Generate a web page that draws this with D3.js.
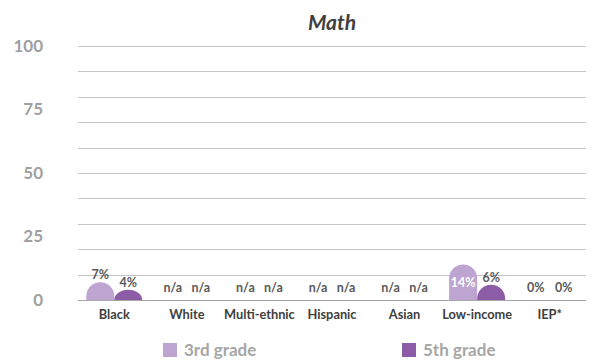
<!DOCTYPE html>
<html>
<head>
<meta charset="utf-8">
<script src="https://cdn.jsdelivr.net/npm/d3@7"></script>
<style>
  body { margin: 0; background: #fff; }
  svg { font-family: Lato, "Open Sans", sans-serif; }
</style>
</head>
<body>
<svg id="chart" width="593" height="361"></svg>
<script>
// chart data
const categories = ["Black", "White", "Multi-ethnic", "Hispanic", "Asian", "Low-income", "IEP*"];
const grade3 = [7, null, null, null, null, 14, 0];
const grade5 = [4, null, null, null, null, 6, 0];
const seriesNames = ["3rd grade", "5th grade"];
const yTicks = [0, 25, 50, 75, 100];
const gridTicks = [0, 10, 20, 30, 40, 50, 60, 70, 80, 90, 100];

const colors = ["#bda4d1", "#8d5ca6"];
const svg = d3.select("#chart");
const margin = { left: 78, right: 7, top: 46, bottom: 61 };
const width = 593, height = 361;

const x0 = d3.scaleBand()
    .domain(categories)
    .range([margin.left, width - margin.right])
    .paddingInner(0.228)
    .paddingOuter(0.114);

const x1 = d3.scaleBand()
    .domain(seriesNames)
    .range([0, x0.bandwidth()]);

const y = d3.scaleLinear()
    .domain([0, 100])
    .range([height - margin.bottom, margin.top]);

// gridlines
svg.append("g")
    .selectAll("line")
    .data(gridTicks)
    .join("line")
    .attr("x1", margin.left)
    .attr("x2", width - margin.right)
    .attr("y1", d => Math.round(y(d)) + 0.5)
    .attr("y2", d => Math.round(y(d)) + 0.5)
    .attr("stroke", d => d === 0 ? "#a6a6a6" : "#c4c4c4")
    .attr("stroke-width", 1);

// y labels
svg.append("g")
    .selectAll("text")
    .data(yTicks)
    .join("text")
    .attr("x", 43)
    .attr("y", d => y(d))
    .attr("dy", "0.35em")
    .attr("text-anchor", "end")
    .style("font-size", "17px")
    .style("font-weight", "bold")
    .attr("fill", "#a0a0a0")
    .text(d => d);

// title
svg.append("text")
    .attr("x", (margin.left + width - margin.right) / 2)
    .attr("y", 30)
    .attr("text-anchor", "middle")
    .style("font-size", "21px")
    .style("font-weight", "bold")
    .style("font-style", "italic")
    .attr("fill", "#404040")
    .text("Math");

const rows = categories.map((c, i) => ({ cat: c, vals: [grade3[i], grade5[i]] }));

// dome shaped bars
function domePath(xl, w, v) {
    const base = y(0);
    const h = base - y(v);
    const rx = w / 2;
    const ry = Math.min(h, rx);
    const shoulder = base - (h - ry);
    return `M${xl},${base} L${xl},${shoulder} A${rx},${ry} 0 0 1 ${xl + w},${shoulder} L${xl + w},${base} Z`;
}

const groups = svg.append("g")
    .selectAll("g")
    .data(rows)
    .join("g")
    .attr("transform", d => `translate(${x0(d.cat)},0)`);

groups.selectAll("path")
    .data(d => d.vals.map((v, j) => ({ v, s: seriesNames[j], j })))
    .join("path")
    .filter(d => d.v)
    .attr("d", d => domePath(x1(d.s), x1.bandwidth(), d.v))
    .attr("fill", d => colors[d.j]);

// value labels
groups.selectAll("text")
    .data(d => d.vals.map((v, j) => ({ v, s: seriesNames[j], j })))
    .join("text")
    .attr("x", d => x1(d.s) + x1.bandwidth() / 2)
    .attr("y", d => {
        if (!d.v) return y(0) - 12;
        if (d.v >= 10) return (y(0) + y(d.v)) / 2;
        return y(d.v) - 7.5;
    })
    .attr("dy", "0.35em")
    .attr("text-anchor", "middle")
    .style("font-size", "12.5px")
    .style("font-weight", "bold")
    .attr("fill", d => d.v >= 10 ? "#ffffff" : "#595959")
    .text(d => d.v === null ? "n/a" : d.v + "%");

// category labels
svg.append("g")
    .selectAll("text")
    .data(categories)
    .join("text")
    .attr("x", d => x0(d) + x0.bandwidth() / 2)
    .attr("y", 315)
    .attr("dy", "0.35em")
    .attr("text-anchor", "middle")
    .style("font-size", "12.8px")
    .style("font-weight", "bold")
    .attr("fill", "#404040")
    .text(d => d);

// legend
const legendX = [163, 402];
const legend = svg.append("g")
    .selectAll("g")
    .data(seriesNames)
    .join("g")
    .attr("transform", (d, i) => `translate(${legendX[i]},343)`);

legend.append("rect")
    .attr("width", 14)
    .attr("height", 14)
    .attr("fill", (d, i) => colors[i]);

legend.append("text")
    .attr("x", 21)
    .attr("y", 7)
    .attr("dy", "0.35em")
    .style("font-size", "17px")
    .style("font-weight", "bold")
    .attr("fill", "#a6a6a6")
    .text(d => d);
</script>
</body>
</html>
